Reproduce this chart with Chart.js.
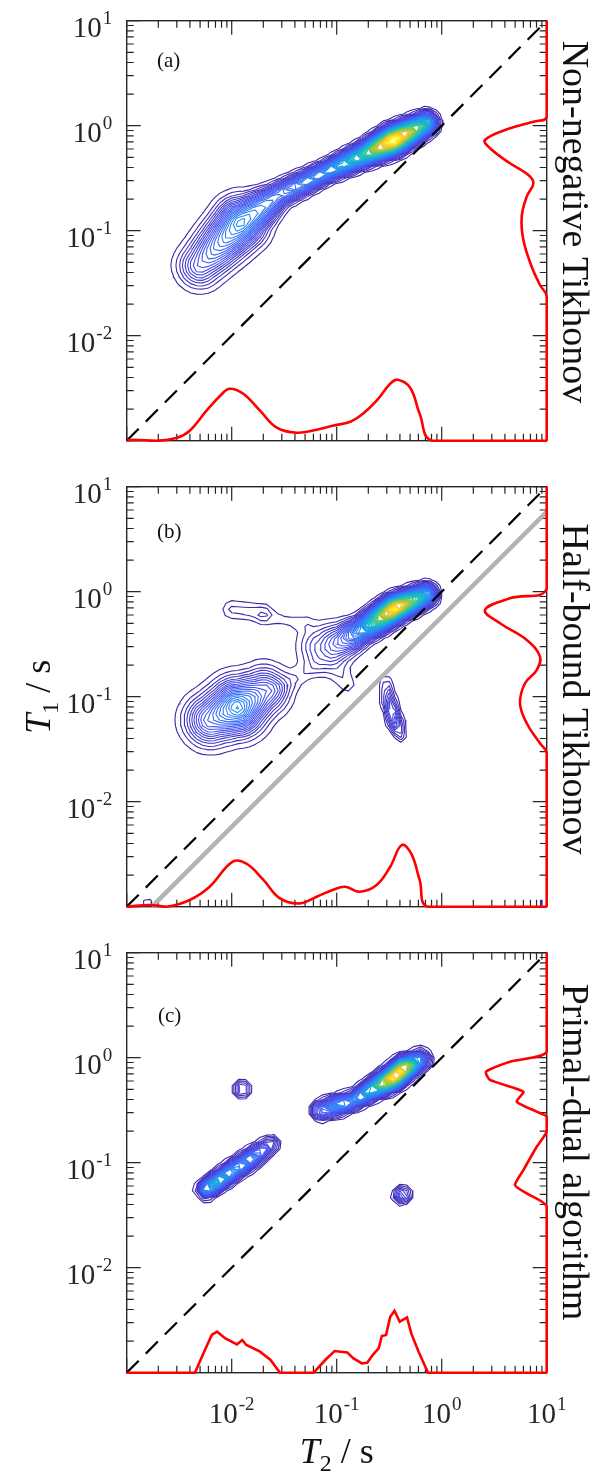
<!DOCTYPE html>
<html>
<head>
<meta charset="utf-8">
<script src="https://cdn.jsdelivr.net/npm/chart.js@4.4.1/dist/chart.umd.min.js"></script>
<style>
  html, body { margin: 0; padding: 0; background: #fff; }
  #wrap { position: relative; width: 604px; height: 1472px; }
  canvas { position: absolute; left: 0; }
</style>
</head>
<body>
<div id="wrap">
  <canvas id="panelA" width="604" height="466" style="top:0px"></canvas>
  <canvas id="panelB" width="604" height="466" style="top:466px"></canvas>
  <canvas id="panelC" width="604" height="540" style="top:932px"></canvas>
</div>
<script>
// ---- axes (both axes are T in seconds, log scale) ----
const T_MIN = 1e-3, T_MAX = 10;
const decades = [1e-3, 1e-2, 1e-1, 1, 10];
const yTickValues = [10, 1, 0.1, 0.01];
const yTickExp = ['1', '0', '-1', '-2'];
const xTickValues = [0.01, 0.1, 1, 10];
const xTickExp = ['-2', '-1', '0', '1'];
const panelNames = ['Non-negative Tikhonov', 'Half-bound Tikhonov', 'Primal-dual algorithm'];
const panelTags = ['(a)', '(b)', '(c)'];

// ---- T2 marginals (bottom): log10(T2/s) and intensity (a.u.) ----
const t2LogA = [-3.00, -2.94, -2.72, -2.52, -2.40, -2.24, -2.10, -2.02, -1.89, -1.73, -1.57, -1.38, -1.19, -1.04, -0.87, -0.75, -0.62, -0.49, -0.42, -0.30, -0.21, -0.09, 1.00];
const t2ValA = [0, 1, 0, 3, 10, 30, 46, 52, 47, 30, 13, 8, 11, 15, 19, 27, 40, 57, 61, 53, 27, 0, 0];
const t2LogB = [-3.00, -2.78, -2.62, -2.40, -2.21, -1.99, -1.86, -1.70, -1.54, -1.35, -1.19, -1.04, -0.92, -0.78, -0.62, -0.49, -0.38, -0.29, -0.21, -0.13, 1.00];
const t2ValB = [0, 1.7, 0, 6.7, 20, 45, 43, 27, 8.3, 3.3, 10, 16.7, 20, 15, 21.7, 40, 61.7, 53, 26.7, 0, 0];
const t2LogC = [-3.00, -2.35, -2.27, -2.19, -2.14, -2.06, -1.95, -1.90, -1.86, -1.73, -1.63, -1.54, -1.22, -1.10, -1.02, -0.90, -0.84, -0.76, -0.71, -0.65, -0.60, -0.57, -0.53, -0.49, -0.45, -0.40, -0.33, -0.29, -0.22, -0.13, 1.00];
const t2ValC = [0, 0, 19.3, 37.7, 41, 34.3, 28.3, 32.7, 27.7, 21, 12.7, 0, 0, 13.7, 21.7, 20.3, 14.3, 9.3, 10, 18.7, 24.3, 36.7, 37.7, 56, 62, 51, 55.3, 39.3, 21, 0, 0];

// ---- T1 marginals (right): log10(T1/s) and intensity (a.u.) ----
const t1LogA = [1.0, 0.086, 0.038, -0.025, -0.136, -0.215, -0.358, -0.470, -0.549, -0.676, -0.867, -1.089, -1.343, -1.517, -1.629, -3.0];
const t1ValA = [0, 0, 13.3, 36.7, 61.7, 56.7, 36.7, 18.3, 13.3, 20, 25, 23.3, 15, 6.7, 0, 0];
const t1LogB = [1.0, 0.032, -0.063, -0.174, -0.301, -0.460, -0.619, -0.746, -0.872, -1.063, -1.253, -1.444, -1.539, -3.0];
const t1ValB = [0, 0, 36.7, 61.7, 46.7, 20, 6.7, 10, 21.7, 26.7, 20, 6.7, 0, 0];
const t1LogC = [1.0, 0.057, -0.038, -0.133, -0.212, -0.324, -0.419, -0.514, -0.562, -0.705, -0.848, -1.070, -1.213, -1.292, -1.419, -3.0];
const t1ValC = [0, 0, 36.7, 60.7, 56.7, 23.3, 30, 10, 0, 0, 10, 23.3, 31.7, 20, 0, 0];

// ---- 2D distributions ----
// each ridge: list of [log10 T2, log10 T1, amplitude, width (decades)]
const ridgesA = [
  [[-2.30, -1.33, 0.14, 0.13], [-1.92, -0.93, 0.30, 0.14], [-1.55, -0.66, 0.22, 0.07], [-1.10, -0.44, 0.30, 0.055],
   [-0.75, -0.28, 0.50, 0.06], [-0.46, -0.14, 1.00, 0.07], [-0.15, 0.02, 0.45, 0.06]]
];
const ridgesB = [
  [[-2.20, -1.22, 0.20, 0.15], [-1.95, -1.10, 0.33, 0.16], [-1.70, -0.95, 0.18, 0.14]],
  [[-1.55, -0.92, 0.025, 0.06], [-1.22, -0.72, 0.025, 0.06]],
  [[-2.00, -0.17, 0.040, 0.06], [-1.70, -0.20, 0.040, 0.06]],
  [[-1.70, -0.24, 0.022, 0.05], [-1.30, -0.30, 0.022, 0.05]],
  [[-1.15, -0.52, 0.09, 0.13], [-0.95, -0.47, 0.18, 0.10], [-0.75, -0.36, 0.35, 0.07], [-0.45, -0.16, 1.00, 0.065], [-0.15, -0.03, 0.40, 0.06]],
  [[-1.05, -0.66, 0.035, 0.09], [-0.90, -0.88, 0.030, 0.06]],
  [[-0.53, -0.85, 0.04, 0.035], [-0.50, -1.05, 0.12, 0.04], [-0.44, -1.25, 0.15, 0.04], [-0.39, -1.38, 0.05, 0.035]],
  [[-2.80, -2.97, 0.025, 0.05]],
  [[0.95, -2.97, 0.02, 0.05]]
];
const ridgesC = [
  [[-2.24, -1.25, 0.38, 0.045], [-2.15, -1.19, 0.45, 0.045], [-1.98, -1.07, 0.33, 0.05], [-1.80, -0.95, 0.28, 0.05], [-1.62, -0.82, 0.12, 0.045]],
  [[-1.15, -0.50, 0.22, 0.05], [-0.98, -0.45, 0.34, 0.05], [-0.82, -0.40, 0.30, 0.045], [-0.66, -0.30, 0.48, 0.05],
   [-0.46, -0.19, 1.00, 0.055], [-0.37, -0.11, 0.95, 0.055], [-0.20, -0.02, 0.30, 0.05]],
  [[-1.905, -0.30, 0.13, 0.045]],
  [[-0.38, -1.31, 0.17, 0.045]]
];

// T1 = T2 line (dashed) and the half-bound limit (grey), log10 offset
const diagT2 = [1e-3, 10];
const boundOffset = -0.24;

const N_LEVELS = 60;
const parula = [[0.2422, 0.1504, 0.6603], [0.2810, 0.3228, 0.9579], [0.1786, 0.5289, 0.9682], [0.0689, 0.6948, 0.8394],
                [0.2161, 0.7843, 0.5923], [0.6720, 0.7793, 0.2227], [0.9970, 0.7659, 0.2199], [0.9769, 0.9839, 0.0805]];
const SERIF = '"Liberation Serif", "Times New Roman", serif';
const INK = '#262626';

function parulaColor(t) {
  const s = t * (parula.length - 1);
  const i = Math.min(parula.length - 2, Math.floor(s)), f = s - i;
  const c = parula[i].map((v, k) => Math.round(255 * (v + f * (parula[i + 1][k] - v))));
  return `rgb(${c[0]},${c[1]},${c[2]})`;
}

function fieldValue(ridges, u, v) {
  let sum = 0;
  for (const r of ridges) {
    let best = 0;
    for (let s = 0; s < Math.max(1, r.length - 1); s++) {
      const p = r[s], q = r[Math.min(s + 1, r.length - 1)];
      const dx = q[0] - p[0], dy = q[1] - p[1], L2 = dx * dx + dy * dy;
      let t = L2 > 0 ? ((u - p[0]) * dx + (v - p[1]) * dy) / L2 : 0;
      t = Math.max(0, Math.min(1, t));
      const cx = p[0] + t * dx, cy = p[1] + t * dy;
      const a = p[2] + t * (q[2] - p[2]), w = p[3] + t * (q[3] - p[3]);
      const d2 = (u - cx) ** 2 + (v - cy) ** 2;
      best = Math.max(best, a * Math.exp(-d2 / (2 * w * w)));
    }
    sum += best;
  }
  return sum;
}

// marching squares, segments chained into polylines
function traceContours(F, us, vs, level) {
  const n = us.length - 1;
  const pts = new Map(), segs = [];
  const edgeKey = (i1, j1, i2, j2) => {
    const key = i1 + ':' + j1 + ':' + i2 + ':' + j2;
    if (!pts.has(key)) {
      const a = F[j1][i1], b = F[j2][i2], t = (level - a) / (b - a);
      pts.set(key, [us[i1] + t * (us[i2] - us[i1]), vs[j1] + t * (vs[j2] - vs[j1])]);
    }
    return key;
  };
  for (let j = 0; j < n; j++) {
    for (let i = 0; i < n; i++) {
      const bl = F[j][i], br = F[j][i + 1], tr = F[j + 1][i + 1], tl = F[j + 1][i];
      const c = (bl > level ? 1 : 0) | (br > level ? 2 : 0) | (tr > level ? 4 : 0) | (tl > level ? 8 : 0);
      if (c === 0 || c === 15) continue;
      const B = () => edgeKey(i, j, i + 1, j), R = () => edgeKey(i + 1, j, i + 1, j + 1);
      const T = () => edgeKey(i, j + 1, i + 1, j + 1), L = () => edgeKey(i, j, i, j + 1);
      const mid = (bl + br + tr + tl) / 4 > level;
      switch (c) {
        case 1: case 14: segs.push([L(), B()]); break;
        case 2: case 13: segs.push([B(), R()]); break;
        case 3: case 12: segs.push([L(), R()]); break;
        case 4: case 11: segs.push([R(), T()]); break;
        case 6: case 9: segs.push([B(), T()]); break;
        case 7: case 8: segs.push([L(), T()]); break;
        case 5: if (mid) segs.push([B(), R()], [T(), L()]); else segs.push([L(), B()], [R(), T()]); break;
        case 10: if (mid) segs.push([L(), B()], [R(), T()]); else segs.push([B(), R()], [T(), L()]); break;
      }
    }
  }
  const adj = new Map();
  segs.forEach((s, idx) => s.forEach(k => { if (!adj.has(k)) adj.set(k, []); adj.get(k).push(idx); }));
  const used = new Array(segs.length).fill(false);
  const grow = (chain) => {
    for (;;) {
      const end = chain[chain.length - 1];
      const next = (adj.get(end) || []).find(id => !used[id]);
      if (next === undefined) return;
      used[next] = true;
      const s = segs[next];
      chain.push(s[0] === end ? s[1] : s[0]);
    }
  };
  const lines = [];
  segs.forEach((s, idx) => {
    if (used[idx]) return;
    used[idx] = true;
    const fwd = [s[0], s[1]];
    grow(fwd);
    const back = [s[0]];
    grow(back);
    lines.push(back.slice(1).reverse().concat(fwd).map(k => pts.get(k)));
  });
  return lines;
}

function contourDatasets(ridges, cells) {
  const lo = Math.log10(T_MIN), hi = Math.log10(T_MAX);
  const us = [];
  for (let i = 0; i <= cells; i++) us.push(lo + i * (hi - lo) / cells);
  const vs = us.slice();
  const F = vs.map(v => us.map(u => fieldValue(ridges, u, v)));
  let fmax = 0;
  F.forEach(row => row.forEach(f => { fmax = Math.max(fmax, f); }));
  const sets = [];
  for (let k = 1; k <= N_LEVELS; k++) {
    const lines = traceContours(F, us, vs, fmax * k / (N_LEVELS + 1));
    if (!lines.length) continue;
    const data = [];
    lines.forEach(l => {
      l.forEach(p => data.push({x: Math.pow(10, p[0]), y: Math.pow(10, p[1])}));
      data.push({x: null, y: null});
    });
    sets.push({
      data,
      showLine: true,
      borderColor: parulaColor((k - 1) / (N_LEVELS - 1)),
      borderWidth: 1.1,
      pointRadius: 0,
      order: 10 + N_LEVELS - k
    });
  }
  return sets;
}

function drawPower(ctx, exp, x, y, align) {
  ctx.font = `29px ${SERIF}`;
  const w1 = ctx.measureText('10').width;
  ctx.font = `19px ${SERIF}`;
  const w2 = ctx.measureText(exp).width + 1;
  const x0 = align === 'right' ? x - w1 - w2 : x - (w1 + w2) / 2;
  ctx.textAlign = 'left';
  ctx.textBaseline = 'alphabetic';
  ctx.font = `29px ${SERIF}`;
  ctx.fillText('10', x0, y);
  ctx.font = `19px ${SERIF}`;
  ctx.fillText(exp, x0 + w1 + 1, y - 13);
}

// "T_n / s" with italic T and subscript, drawn at (0,0) centred
function drawAxisTitle(ctx, sub) {
  const parts = [[`italic 36px ${SERIF}`, 'T', 0], [`24px ${SERIF}`, sub, 8], [`36px ${SERIF}`, ' / s', 0]];
  let total = 0;
  parts.forEach(p => { ctx.font = p[0]; total += ctx.measureText(p[1]).width; });
  let x = -total / 2;
  ctx.textAlign = 'left';
  ctx.textBaseline = 'alphabetic';
  parts.forEach(p => { ctx.font = p[0]; ctx.fillText(p[1], x, p[2]); x += ctx.measureText(p[1]).width; });
}

const decor = {
  id: 'decor',
  beforeDatasetsDraw(chart) {
    const {ctx, chartArea: a, scales: {x, y}} = chart;
    ctx.save();
    ctx.strokeStyle = INK;
    ctx.lineWidth = 1.2;
    ctx.beginPath();
    decades.forEach(d => {
      for (let k = 1; k <= 9; k++) {
        const val = d * k;
        if (val > T_MAX * 1.0001) break;
        const len = k === 1 ? 14 : 7;
        const px = x.getPixelForValue(val), py = y.getPixelForValue(val);
        ctx.moveTo(px, a.bottom); ctx.lineTo(px, a.bottom - len);
        ctx.moveTo(px, a.top); ctx.lineTo(px, a.top + len);
        ctx.moveTo(a.left, py); ctx.lineTo(a.left + len, py);
        ctx.moveTo(a.right, py); ctx.lineTo(a.right - len, py);
      }
    });
    ctx.stroke();
    ctx.lineWidth = 1.4;
    ctx.strokeRect(a.left, a.top, a.right - a.left, a.bottom - a.top);
    ctx.restore();
  },
  afterDraw(chart, args, opts) {
    const {ctx, chartArea: a, scales: {x, y}} = chart;
    ctx.save();
    ctx.fillStyle = INK;
    yTickValues.forEach((v, i) => drawPower(ctx, yTickExp[i], a.left - 14.5, y.getPixelForValue(v) + 16, 'right'));
    if (opts.xLabels) {
      xTickValues.forEach((v, i) => drawPower(ctx, xTickExp[i], x.getPixelForValue(v), a.bottom + 50, 'center'));
      ctx.fillStyle = '#111';
      ctx.save();
      ctx.translate((a.left + a.right) / 2, a.bottom + 90);
      drawAxisTitle(ctx, '2');
      ctx.restore();
    }
    if (opts.yTitle) {
      ctx.fillStyle = '#111';
      ctx.save();
      ctx.translate(50, (a.top + a.bottom) / 2);
      ctx.rotate(-Math.PI / 2);
      drawAxisTitle(ctx, '1');
      ctx.restore();
    }
    ctx.fillStyle = '#111';
    ctx.font = `21px ${SERIF}`;
    ctx.textAlign = 'left';
    ctx.textBaseline = 'middle';
    ctx.fillText(opts.tag, opts.tagX, opts.tagY);
    ctx.save();
    ctx.translate(563, opts.nameY);
    ctx.rotate(Math.PI / 2);
    ctx.font = `38px ${SERIF}`;
    ctx.textAlign = 'center';
    ctx.textBaseline = 'alphabetic';
    ctx.fillText(opts.name, 0, 0);
    ctx.restore();
    ctx.restore();
  }
};

function makePanel(id, ridges, cells, t2Log, t2Val, t2Tension, t1Log, t1Val, t1Tension, decorOpts, withBound) {
  const canvas = document.getElementById(id);
  const lineSets = [
    {
      data: t2Log.map((l, i) => ({x: Math.pow(10, l), y: t2Val[i]})),
      yAxisID: 'yM', showLine: true, borderColor: '#ff0000', borderWidth: 2.6,
      pointRadius: 0, tension: t2Tension, clip: false, order: 0
    },
    {
      data: t1Log.map((l, i) => ({x: t1Val[i], y: Math.pow(10, l)})),
      xAxisID: 'xM', showLine: true, borderColor: '#ff0000', borderWidth: 2.6,
      pointRadius: 0, tension: t1Tension, clip: false, order: 0
    },
    {
      data: diagT2.map(t => ({x: t, y: t})),
      showLine: true, borderColor: '#000', borderWidth: 2.2, borderDash: [17, 10],
      pointRadius: 0, order: 1
    }
  ];
  if (withBound) {
    lineSets.push({
      data: [{x: T_MIN / Math.pow(10, boundOffset), y: T_MIN}, {x: T_MAX, y: T_MAX * Math.pow(10, boundOffset)}],
      showLine: true, borderColor: '#b4b4b4', borderWidth: 4.5,
      pointRadius: 0, order: 2
    });
  }
  return new Chart(canvas, {
    type: 'scatter',
    data: {datasets: lineSets.concat(contourDatasets(ridges, cells))},
    options: {
      responsive: false,
      animation: false,
      events: [],
      layout: {padding: {left: 126.7, right: 57.3, top: 20.7, bottom: canvas.height - 440.7}},
      scales: {
        x: {type: 'logarithmic', min: T_MIN, max: T_MAX, display: false},
        y: {type: 'logarithmic', min: T_MIN, max: T_MAX, display: false},
        xM: {type: 'linear', position: 'top', min: 0, max: 420, reverse: true, display: false},
        yM: {type: 'linear', position: 'right', min: 0, max: 420, display: false}
      },
      plugins: {
        legend: {display: false},
        tooltip: {enabled: false},
        decor: decorOpts
      }
    },
    plugins: [decor]
  });
}

makePanel('panelA', ridgesA, 72, t2LogA, t2ValA, 0.4, t1LogA, t1ValA, 0.4,
  {tag: panelTags[0], tagX: 157, tagY: 61.5, name: panelNames[0], nameY: 222, xLabels: false, yTitle: false}, false);
makePanel('panelB', ridgesB, 72, t2LogB, t2ValB, 0.4, t1LogB, t1ValB, 0.4,
  {tag: panelTags[1], tagX: 157, tagY: 66, name: panelNames[1], nameY: 223, xLabels: false, yTitle: true}, true);
makePanel('panelC', ridgesC, 60, t2LogC, t2ValC, 0, t1LogC, t1ValC, 0.2,
  {tag: panelTags[2], tagX: 158, tagY: 84, name: panelNames[2], nameY: 220, xLabels: true, yTitle: false}, false);
</script>
</body>
</html>
